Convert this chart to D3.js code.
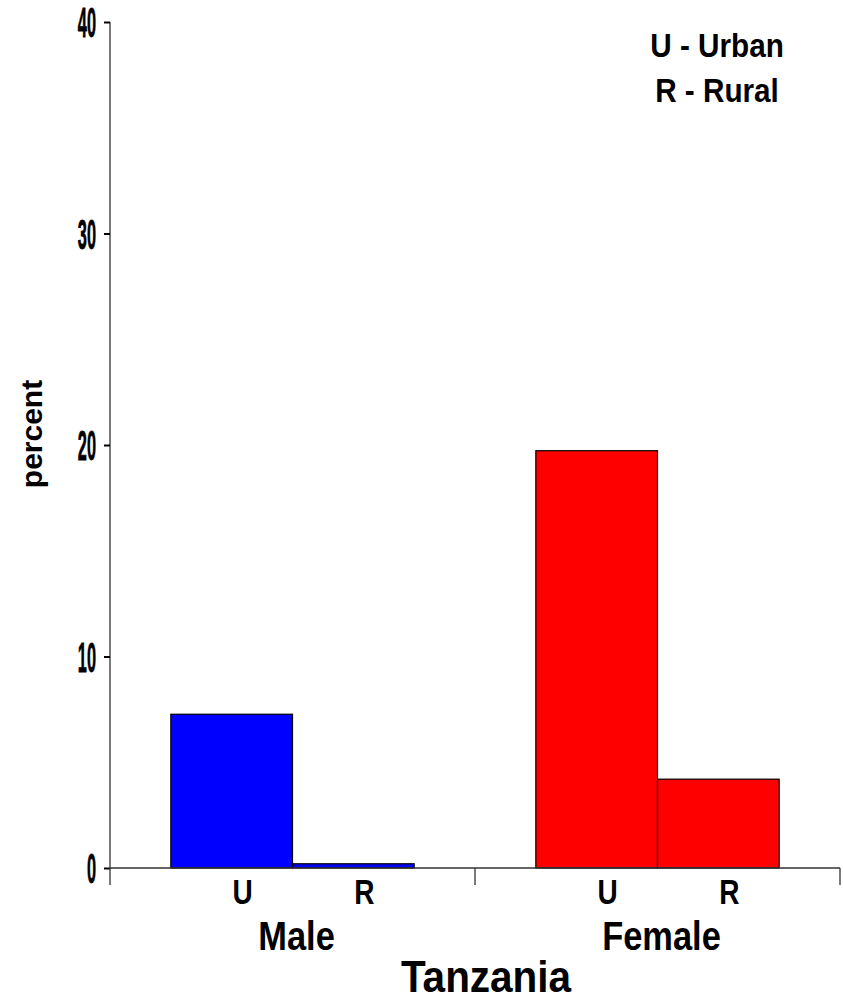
<!DOCTYPE html>
<html>
<head>
<meta charset="utf-8">
<script src="https://cdn.jsdelivr.net/npm/d3@7"></script>
<style>
  html, body { margin: 0; padding: 0; background: #fff; }
  svg { display: block; font-family: "Liberation Sans", Arial, sans-serif; font-weight: bold; }
</style>
</head>
<body>
<svg id="chart" width="843" height="1002"></svg>
<script>
// Share (%) by sex and residence, Tanzania
const sexes = ["Male", "Female"];
const areas = ["U", "R"];
const maleValues = [7.27, 0.2];
const femaleValues = [19.73, 4.2];
const yTicks = [0, 10, 20, 30, 40];
const sexColors = ["#0000ff", "#ff0000"];
const legendLines = ["U - Urban", "R - Rural"];
const chartTitle = "Tanzania";
const yTitle = "percent";

const rows = [];
sexes.forEach((s, i) => {
  const vals = i === 0 ? maleValues : femaleValues;
  areas.forEach((a, j) => rows.push({ sex: s, area: a, value: vals[j], color: sexColors[i] }));
});

const svg = d3.select("#chart");
const plotLeft = 110, plotRight = 840, plotTop = 22, plotBottom = 868;

const y = d3.scaleLinear().domain([0, 40]).range([plotBottom, plotTop]);
const x0 = d3.scaleBand().domain(sexes).range([plotLeft, plotRight]).padding(0);
const gw = x0.bandwidth();
const x1 = d3.scaleBand().domain(areas).range([gw / 6, gw * 5 / 6]).padding(0);

// bars
svg.append("g").selectAll("rect").data(rows).join("rect")
  .attr("x", d => x0(d.sex) + x1(d.area))
  .attr("y", d => y(d.value))
  .attr("width", x1.bandwidth())
  .attr("height", d => y(0) - y(d.value))
  .attr("fill", d => d.color)
  .attr("stroke", "#000")
  .attr("stroke-width", 1.2);

// y axis
const yAxis = svg.append("g").attr("transform", `translate(${plotLeft},0)`)
  .call(d3.axisLeft(y).tickValues(yTicks).tickSize(6).tickFormat(""));
yAxis.select(".domain").attr("d", `M0,${plotTop}V${plotBottom}`).attr("stroke", "#333").attr("stroke-width", 1.3);
yAxis.selectAll(".tick line").attr("stroke", "#000").attr("stroke-width", 2);

svg.append("g").selectAll("text").data(yTicks).join("text")
  .attr("transform", d => `translate(96,${y(d)}) scale(0.38,1)`)
  .attr("text-anchor", "end")
  .attr("dy", "0.36em")
  .attr("font-size", 43)
  .attr("stroke", "#000")
  .attr("stroke-width", 0.8)
  .text(d => d);

// x axis with group boundary ticks
const xAxis = svg.append("g");
xAxis.append("line")
  .attr("x1", plotLeft).attr("x2", plotRight).attr("y1", y(0)).attr("y2", y(0))
  .attr("stroke", "#333").attr("stroke-width", 1.3);
const bounds = sexes.map(s => x0(s)).concat([x0.range()[1]]);
xAxis.selectAll("line.tick").data(bounds).join("line")
  .attr("class", "tick")
  .attr("x1", d => d).attr("x2", d => d)
  .attr("y1", y(0)).attr("y2", y(0) + 17)
  .attr("stroke", "#333").attr("stroke-width", 1.3);

// area labels under bars
svg.append("g").selectAll("text").data(rows).join("text")
  .attr("transform", d => `translate(${x0(d.sex) + x1(d.area) + x1.bandwidth() / 2 + 11},904) scale(0.8,1)`)
  .attr("text-anchor", "middle")
  .attr("font-size", 35)
  .text(d => d.area);

// sex labels
svg.append("g").selectAll("text").data(sexes).join("text")
  .attr("transform", d => `translate(${x0(d) + gw / 2 + 4},950) scale(0.84,1)`)
  .attr("text-anchor", "middle")
  .attr("font-size", 41)
  .text(d => d);

// chart title
svg.append("text")
  .attr("transform", `translate(${(plotLeft + plotRight) / 2 + 11},992) scale(0.9,1)`)
  .attr("text-anchor", "middle")
  .attr("font-size", 45)
  .text(chartTitle);

// y title
svg.append("text")
  .attr("transform", `translate(42,${(plotTop + plotBottom) / 2 - 11}) rotate(-90)`)
  .attr("text-anchor", "middle")
  .attr("font-size", 30)
  .text(yTitle);

// legend
svg.append("g").selectAll("text").data(legendLines).join("text")
  .attr("transform", (d, i) => `translate(717,${57 + i * 45}) scale(0.9,1)`)
  .attr("text-anchor", "middle")
  .attr("font-size", 33)
  .text(d => d);
</script>
</body>
</html>
